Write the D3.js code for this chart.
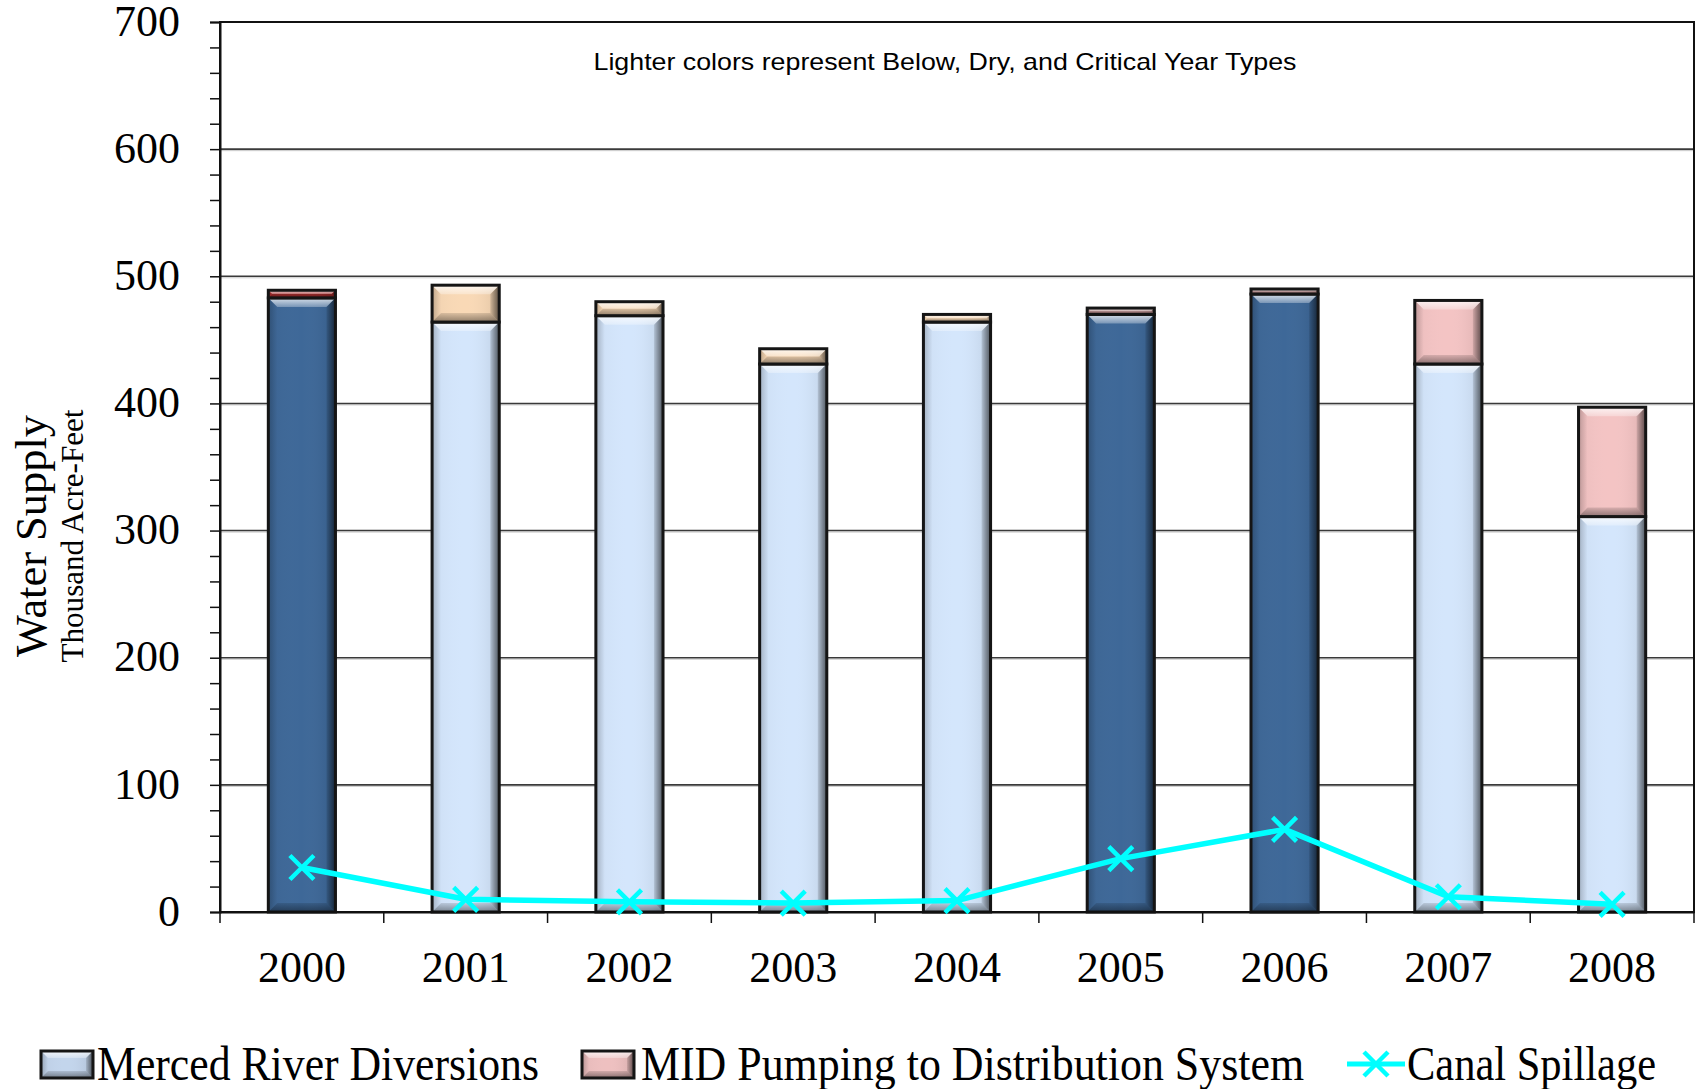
<!DOCTYPE html>
<html>
<head>
<meta charset="utf-8">
<script src="https://cdn.jsdelivr.net/npm/d3@7"></script>
<style>
  html, body { margin: 0; padding: 0; background: #fff; }
  svg { display: block; }
</style>
</head>
<body>
<svg id="chart" width="1697" height="1089"></svg>
<script>
// ---- data (thousand acre-feet) ----
const years = ['2000', '2001', '2002', '2003', '2004', '2005', '2006', '2007', '2008'];
const diversions = [483, 464, 469, 431, 464, 470, 486, 431, 311];
const pumping = [6, 29, 11, 12, 6, 5, 4, 50, 86];
const spillage = [35, 10, 8, 7, 9, 42, 65, 12, 6];
const yearTypes = ['above normal', 'dry', 'dry', 'below normal', 'dry', 'wet', 'wet', 'critical', 'critical'];
const yTickValues = [0, 100, 200, 300, 400, 500, 600, 700];
const seriesNames = ['Merced River Diversions', 'MID Pumping to Distribution System', 'Canal Spillage'];
const noteText = 'Lighter colors represent Below, Dry, and Critical Year Types';
const yTitle = 'Water Supply';
const ySubtitle = 'Thousand Acre-Feet';

// ---- colours ----
const diversionColor = t => (t === 'wet' || t === 'above normal') ? '#3e6898' : '#d4e6fc';
const pumpingColor = t => ({
  'above normal': '#a52c2c',
  'wet': '#b88c8c',
  'dry': '#f9d9b6',
  'below normal': '#f9d9b6',
  'critical': '#f4c4c4'
})[t];
const spillColor = '#00ffff';

// ---- layout ----
const plot = { left: 220, right: 1694, top: 22, bottom: 912 };
const serif = '"Liberation Serif", "DejaVu Serif", serif';

const svg = d3.select('#chart');
const defs = svg.append('defs');

const x = d3.scaleBand().domain(years).range([plot.left, plot.right]);
const y = d3.scaleLinear().domain([0, 700]).range([plot.bottom, plot.top]);
const barW = x.bandwidth() * 0.41;
const cx = d => x(d) + x.bandwidth() / 2;

// bevel gradients
function lin(id, x1, y1, x2, y2, stops) {
  const g = defs.append('linearGradient').attr('id', id)
    .attr('x1', x1).attr('y1', y1).attr('x2', x2).attr('y2', y2);
  stops.forEach(s => g.append('stop').attr('offset', s[0]).attr('stop-color', s[1]).attr('stop-opacity', s[2]));
}
lin('bvTop', 0, 0, 0, 1, [[0, '#fff', 0.8], [1, '#fff', 0.3]]);
lin('bvRight', 0, 0, 1, 0, [[0, '#000', 0.1], [1, '#000', 0.55]]);
lin('bvLeft', 1, 0, 0, 0, [[0, '#000', 0.0], [1, '#000', 0.2]]);
lin('bvBottom', 0, 0, 0, 1, [[0, '#000', 0.12], [1, '#000', 0.42]]);
lin('bodyShade', 0, 0, 1, 0, [[0, '#000', 0.04], [0.5, '#fff', 0.0], [0.85, '#000', 0.05], [1, '#000', 0.15]]);

function bevelRect(g, x0, y0, w, h, fill, bMax) {
  const b = Math.min(bMax, h / 2, w / 2);
  const grp = g.append('g');
  grp.append('rect').attr('x', x0).attr('y', y0).attr('width', w).attr('height', h).attr('fill', fill);
  grp.append('rect').attr('x', x0).attr('y', y0).attr('width', w).attr('height', h).attr('fill', 'url(#bodyShade)');
  const poly = (pts, f) => grp.append('polygon').attr('points', pts.map(p => p.join(',')).join(' ')).attr('fill', f);
  poly([[x0, y0], [x0 + w, y0], [x0 + w - b, y0 + b], [x0 + b, y0 + b]], 'url(#bvTop)');
  poly([[x0 + w, y0], [x0 + w, y0 + h], [x0 + w - b, y0 + h - b], [x0 + w - b, y0 + b]], 'url(#bvRight)');
  poly([[x0, y0], [x0 + b, y0 + b], [x0 + b, y0 + h - b], [x0, y0 + h]], 'url(#bvLeft)');
  poly([[x0, y0 + h], [x0 + b, y0 + h - b], [x0 + w - b, y0 + h - b], [x0 + w, y0 + h]], 'url(#bvBottom)');
  grp.append('rect').attr('x', x0).attr('y', y0).attr('width', w).attr('height', h)
    .attr('fill', 'none').attr('stroke', '#151515').attr('stroke-width', 3);
  return grp;
}

// ---- gridlines ----
const grid = svg.append('g');
yTickValues.filter(v => v > 0 && v < 700).forEach(v => {
  grid.append('line').attr('x1', plot.left).attr('x2', plot.right)
    .attr('y1', y(v) + 1.5).attr('y2', y(v) + 1.5).attr('stroke', '#c8c8c8').attr('stroke-width', 1);
  grid.append('line').attr('x1', plot.left).attr('x2', plot.right)
    .attr('y1', y(v)).attr('y2', y(v)).attr('stroke', '#3a3a3a').attr('stroke-width', 1.6);
});

// ---- bars: diversions with pumping stacked on top ----
const bars = svg.append('g');
years.forEach((yr, i) => {
  const x0 = cx(yr) - barW / 2;
  const d = diversions[i], p = pumping[i];
  bevelRect(bars, x0, y(d), barW, y(0) - y(d), diversionColor(yearTypes[i]), 9);
  bevelRect(bars, x0, y(d + p), barW, y(d) - y(d + p), pumpingColor(yearTypes[i]), 9);
});

// ---- plot frame ----
svg.append('rect').attr('x', plot.left).attr('y', plot.top)
  .attr('width', plot.right - plot.left).attr('height', plot.bottom - plot.top)
  .attr('fill', 'none').attr('stroke', '#111').attr('stroke-width', 2);

// ---- y axis ----
const yAxis = d3.axisLeft(y)
  .tickValues(d3.range(0, 701, 20))
  .tickSize(10)
  .tickPadding(30)
  .tickFormat(v => yTickValues.includes(v) ? String(v) : '');
const yg = svg.append('g').attr('transform', `translate(${plot.left},0)`).call(yAxis);
yg.select('.domain').attr('stroke', '#111').attr('stroke-width', 2);
yg.selectAll('.tick line').attr('stroke', '#111').attr('stroke-width', 1.5);
yg.selectAll('.tick text').attr('font-family', serif).attr('font-size', 44).attr('fill', '#000')
  .attr('dy', '0.30em');

// ---- x axis: ticks between categories, labels centred ----
const xAxis = d3.axisBottom(x).tickSize(0).tickPadding(39);
const xg = svg.append('g').attr('transform', `translate(0,${plot.bottom})`).call(xAxis);
xg.select('.domain').attr('stroke', '#111').attr('stroke-width', 2);
xg.selectAll('.tick text').attr('font-family', serif).attr('font-size', 44).attr('fill', '#000');
const bounds = years.map(v => x(v)).concat([x(years[years.length - 1]) + x.step()]);
xg.selectAll('line.sep').data(bounds).enter().append('line').attr('class', 'sep')
  .attr('x1', d => d).attr('x2', d => d).attr('y1', 0).attr('y2', 11)
  .attr('stroke', '#111').attr('stroke-width', 1.5);

// ---- canal spillage line ----
const line = d3.line().x((v, i) => cx(years[i])).y(v => y(v));
svg.append('path').datum(spillage).attr('d', line)
  .attr('fill', 'none').attr('stroke', spillColor).attr('stroke-width', 5.5).attr('stroke-linejoin', 'round');
function xMark(g, px, py, s) {
  g.append('path').attr('d', `M${px - s},${py - s}L${px + s},${py + s}M${px - s},${py + s}L${px + s},${py - s}`)
    .attr('stroke', spillColor).attr('stroke-width', 4.5).attr('fill', 'none');
}
const marks = svg.append('g');
spillage.forEach((v, i) => xMark(marks, cx(years[i]), y(v), 12));

// ---- annotation ----
svg.append('text').attr('x', 945).attr('y', 70).attr('text-anchor', 'middle')
  .attr('font-family', '"Liberation Sans", Arial, sans-serif').attr('font-size', 24)
  .attr('textLength', 703).attr('lengthAdjust', 'spacingAndGlyphs')
  .text(noteText);

// ---- axis titles ----
svg.append('text').attr('transform', 'translate(46,536) rotate(-90)').attr('text-anchor', 'middle')
  .attr('font-family', serif).attr('font-size', 44)
  .attr('textLength', 242).attr('lengthAdjust', 'spacingAndGlyphs').text(yTitle);
svg.append('text').attr('transform', 'translate(83,536) rotate(-90)').attr('text-anchor', 'middle')
  .attr('font-family', serif).attr('font-size', 31)
  .attr('textLength', 253).attr('lengthAdjust', 'spacingAndGlyphs').text(ySubtitle);

// ---- legend ----
const leg = svg.append('g');
bevelRect(leg, 41, 1051, 52, 27, '#c3d5ec', 7);
leg.append('text').attr('x', 97).attr('y', 1080).attr('font-family', serif).attr('font-size', 48)
  .attr('textLength', 442).attr('lengthAdjust', 'spacingAndGlyphs').text(seriesNames[0]);
bevelRect(leg, 582, 1051, 52, 27, '#eec0c0', 7);
leg.append('text').attr('x', 641).attr('y', 1080).attr('font-family', serif).attr('font-size', 48)
  .attr('textLength', 663).attr('lengthAdjust', 'spacingAndGlyphs').text(seriesNames[1]);
leg.append('line').attr('x1', 1347).attr('x2', 1405).attr('y1', 1064).attr('y2', 1064)
  .attr('stroke', spillColor).attr('stroke-width', 5);
xMark(leg, 1376, 1064, 12);
leg.append('text').attr('x', 1407).attr('y', 1080).attr('font-family', serif).attr('font-size', 48)
  .attr('textLength', 249).attr('lengthAdjust', 'spacingAndGlyphs').text(seriesNames[2]);
</script>
</body>
</html>
